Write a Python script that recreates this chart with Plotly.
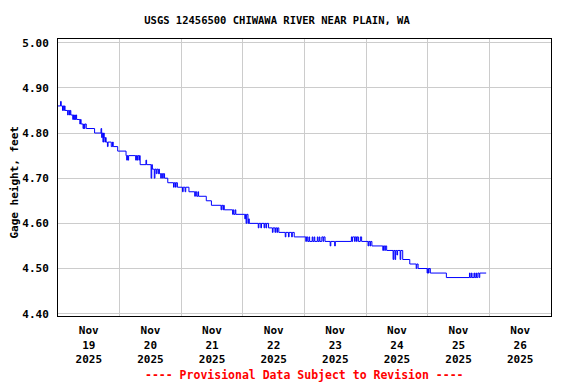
import plotly.graph_objects as go

# Gage height readings (step changes), Nov 2025
times = [
    "2025-11-19 00:00", "2025-11-19 01:00", "2025-11-19 01:15", "2025-11-19 01:45", "2025-11-19 02:00",
    "2025-11-19 02:15", "2025-11-19 02:30", "2025-11-19 02:45", "2025-11-19 03:45", "2025-11-19 04:00",
    "2025-11-19 04:30", "2025-11-19 04:45", "2025-11-19 05:00", "2025-11-19 05:45", "2025-11-19 06:00",
    "2025-11-19 06:15", "2025-11-19 06:30", "2025-11-19 06:45", "2025-11-19 07:00", "2025-11-19 07:15",
    "2025-11-19 08:30", "2025-11-19 08:45", "2025-11-19 09:00", "2025-11-19 09:45", "2025-11-19 10:00",
    "2025-11-19 10:15", "2025-11-19 10:30", "2025-11-19 11:00", "2025-11-19 14:15", "2025-11-19 16:45",
    "2025-11-19 17:00", "2025-11-19 17:15", "2025-11-19 17:30", "2025-11-19 17:45", "2025-11-19 18:00",
    "2025-11-19 18:15", "2025-11-19 18:30", "2025-11-19 18:45", "2025-11-19 19:15", "2025-11-19 19:30",
    "2025-11-19 20:45", "2025-11-19 21:15", "2025-11-19 21:30", "2025-11-19 23:15",
    "2025-11-20 02:30", "2025-11-20 02:45", "2025-11-20 03:00", "2025-11-20 03:15", "2025-11-20 03:30",
    "2025-11-20 06:15", "2025-11-20 06:30", "2025-11-20 06:45", "2025-11-20 07:00", "2025-11-20 07:30",
    "2025-11-20 07:45", "2025-11-20 08:00", "2025-11-20 10:15", "2025-11-20 10:30", "2025-11-20 12:15",
    "2025-11-20 12:30", "2025-11-20 12:45", "2025-11-20 13:30", "2025-11-20 13:45", "2025-11-20 14:15",
    "2025-11-20 14:30", "2025-11-20 15:00", "2025-11-20 15:15", "2025-11-20 15:30", "2025-11-20 16:00",
    "2025-11-20 16:15", "2025-11-20 16:45", "2025-11-20 17:00", "2025-11-20 17:30", "2025-11-20 18:45",
    "2025-11-20 21:00", "2025-11-20 21:15", "2025-11-20 21:45", "2025-11-20 22:00", "2025-11-20 22:30",
    "2025-11-21 00:30", "2025-11-21 00:45", "2025-11-21 01:30", "2025-11-21 01:45", "2025-11-21 03:00",
    "2025-11-21 05:15", "2025-11-21 05:30", "2025-11-21 06:00", "2025-11-21 06:30", "2025-11-21 06:45",
    "2025-11-21 09:45", "2025-11-21 11:45", "2025-11-21 15:30", "2025-11-21 15:45", "2025-11-21 16:15",
    "2025-11-21 16:30", "2025-11-21 16:45", "2025-11-21 20:00", "2025-11-21 20:15", "2025-11-21 20:30",
    "2025-11-21 21:00", "2025-11-21 21:15",
    "2025-11-22 00:45", "2025-11-22 01:00", "2025-11-22 01:15", "2025-11-22 01:30", "2025-11-22 02:00",
    "2025-11-22 02:15", "2025-11-22 02:30", "2025-11-22 06:00", "2025-11-22 06:15", "2025-11-22 07:00",
    "2025-11-22 07:15", "2025-11-22 08:15", "2025-11-22 08:30", "2025-11-22 09:00", "2025-11-22 09:15",
    "2025-11-22 10:00", "2025-11-22 11:30", "2025-11-22 11:45", "2025-11-22 12:30", "2025-11-22 12:45",
    "2025-11-22 13:15", "2025-11-22 13:30", "2025-11-22 14:00", "2025-11-22 16:30", "2025-11-22 16:45",
    "2025-11-22 17:45", "2025-11-22 18:00", "2025-11-22 19:00", "2025-11-22 19:15", "2025-11-22 20:00",
    "2025-11-23 00:30", "2025-11-23 00:45", "2025-11-23 01:15", "2025-11-23 01:45", "2025-11-23 02:00",
    "2025-11-23 03:00", "2025-11-23 03:15", "2025-11-23 03:45", "2025-11-23 04:00", "2025-11-23 05:00",
    "2025-11-23 05:15", "2025-11-23 05:45", "2025-11-23 06:00", "2025-11-23 06:45", "2025-11-23 07:15",
    "2025-11-23 07:30", "2025-11-23 08:00", "2025-11-23 10:00", "2025-11-23 10:15", "2025-11-23 11:45",
    "2025-11-23 12:00", "2025-11-23 18:15", "2025-11-23 18:30", "2025-11-23 18:45", "2025-11-23 19:30",
    "2025-11-23 19:45", "2025-11-23 20:15", "2025-11-23 20:30", "2025-11-23 21:00", "2025-11-23 21:45",
    "2025-11-23 22:15",
    "2025-11-24 00:45", "2025-11-24 01:00", "2025-11-24 01:30", "2025-11-24 01:45", "2025-11-24 02:15",
    "2025-11-24 06:30", "2025-11-24 06:45", "2025-11-24 07:15", "2025-11-24 07:30", "2025-11-24 08:00",
    "2025-11-24 10:30", "2025-11-24 10:45", "2025-11-24 11:15", "2025-11-24 11:30", "2025-11-24 12:00",
    "2025-11-24 12:15", "2025-11-24 13:15", "2025-11-24 13:30", "2025-11-24 14:15", "2025-11-24 17:00",
    "2025-11-24 19:30", "2025-11-24 19:45", "2025-11-24 20:15", "2025-11-24 23:45",
    "2025-11-25 00:00", "2025-11-25 00:15", "2025-11-25 00:30", "2025-11-25 01:00", "2025-11-25 07:15",
    "2025-11-25 16:15", "2025-11-25 16:30", "2025-11-25 17:00", "2025-11-25 17:15", "2025-11-25 18:00",
    "2025-11-25 18:15", "2025-11-25 18:45", "2025-11-25 19:00", "2025-11-25 19:30", "2025-11-25 20:00",
    "2025-11-25 20:15", "2025-11-25 22:45",
]
gage_ft = [
    4.86, 4.87, 4.86, 4.85, 4.86,
    4.85, 4.86, 4.85, 4.84, 4.85,
    4.84, 4.85, 4.84, 4.83, 4.84,
    4.83, 4.84, 4.83, 4.84, 4.83,
    4.82, 4.83, 4.82, 4.81, 4.82,
    4.81, 4.82, 4.81, 4.80, 4.81,
    4.79, 4.80, 4.78, 4.80, 4.79,
    4.78, 4.79, 4.78, 4.77, 4.78,
    4.77, 4.78, 4.77, 4.76,
    4.75, 4.74, 4.75, 4.74, 4.75,
    4.74, 4.75, 4.74, 4.75, 4.74,
    4.75, 4.73, 4.74, 4.73, 4.70,
    4.73, 4.72, 4.70, 4.72, 4.71,
    4.72, 4.71, 4.72, 4.71, 4.70,
    4.71, 4.70, 4.71, 4.70, 4.69,
    4.68, 4.69, 4.68, 4.69, 4.68,
    4.67, 4.68, 4.67, 4.68, 4.67,
    4.66, 4.67, 4.66, 4.67, 4.66,
    4.65, 4.64, 4.63, 4.64, 4.63,
    4.64, 4.63, 4.62, 4.63, 4.62,
    4.63, 4.62,
    4.61, 4.62, 4.60, 4.62, 4.60,
    4.61, 4.60, 4.59, 4.60, 4.59,
    4.60, 4.59, 4.60, 4.59, 4.60,
    4.59, 4.58, 4.59, 4.58, 4.59,
    4.58, 4.59, 4.58, 4.57, 4.58,
    4.57, 4.58, 4.57, 4.58, 4.57,
    4.56, 4.57, 4.56, 4.57, 4.56,
    4.57, 4.56, 4.57, 4.56, 4.57,
    4.56, 4.57, 4.56, 4.57, 4.56,
    4.57, 4.56, 4.55, 4.56, 4.55,
    4.56, 4.57, 4.56, 4.57, 4.56,
    4.57, 4.56, 4.57, 4.56, 4.57,
    4.56,
    4.55, 4.56, 4.55, 4.56, 4.55,
    4.54, 4.55, 4.54, 4.55, 4.54,
    4.52, 4.54, 4.52, 4.54, 4.53,
    4.54, 4.52, 4.54, 4.52, 4.51,
    4.50, 4.51, 4.50, 4.49,
    4.50, 4.49, 4.50, 4.49, 4.48,
    4.49, 4.48, 4.49, 4.48, 4.49,
    4.48, 4.49, 4.48, 4.49, 4.48,
    4.49, 4.49,
]

x_start = "2025-11-19 00:00"
x_end = "2025-11-27 00:00"
y_ticks = [4.40, 4.50, 4.60, 4.70, 4.80, 4.90, 5.00]

FONT = "DejaVu Sans Mono"
OFF = 8  # page body margin offset in the browser

W, H = 576 - OFF, 384 - OFF
L, R, T, B = 58 - OFF, 25, 39 - OFF, 68
PW, PH = W - L - R, H - T - B

fig = go.Figure()
fig.add_trace(go.Scatter(
    x=times, y=gage_ft, mode="lines",
    line=dict(color="#0000ff", width=1, shape="hv"),
    showlegend=False,
))

fig.update_layout(
    width=W, height=H,
    margin=dict(l=L, r=R, t=T, b=B, autoexpand=False),
    paper_bgcolor="white", plot_bgcolor="white",
    font=dict(family=FONT, color="black"),
    title=dict(
        text="<b>USGS 12456500 CHIWAWA RIVER NEAR PLAIN, WA</b>",
        x=(277 - OFF) / W, xref="container", xanchor="center",
        y=1 - (20 - OFF) / H, yref="container", yanchor="middle",
        font=dict(family=FONT, size=10.5, color="black"),
    ),
    xaxis=dict(
        type="date",
        range=[x_start, x_end],
        tick0=x_start, dtick=86400000,
        ticklabelmode="period",
        tickformat="<b>%b</b><br><b>%d</b><br><b>%Y</b>",
        ticks="", showgrid=True, gridcolor="#cccccc", gridwidth=1,
        showline=True, linecolor="black", linewidth=1, mirror=True,
        tickfont=dict(family=FONT, size=11, color="black"),
        ticklabelstandoff=4,
        zeroline=False, automargin=False,
    ),
    yaxis=dict(
        range=[4.3949, 5.0082],
        tickvals=y_ticks,
        ticktext=["<b>%.2f</b>" % v for v in y_ticks],
        ticks="", showgrid=True, gridcolor="#cccccc", gridwidth=1,
        showline=True, linecolor="black", linewidth=1, mirror=True,
        tickfont=dict(family=FONT, size=11, color="black"),
        ticklabelstandoff=6,
        zeroline=False, automargin=False,
    ),
    annotations=[
        dict(
            text="<b>Gage height, feet</b>", textangle=-90,
            xref="paper", yref="paper",
            x=(15 - 58) / PW, y=(316 - 182.6) / PH,
            xanchor="center", yanchor="middle", showarrow=False,
            font=dict(family=FONT, size=11, color="black"),
        ),
        dict(
            text="<b>---- Provisional Data Subject to Revision ----</b>",
            xref="paper", yref="paper",
            x=0.5, y=-(375 - 316) / PH,
            xanchor="center", yanchor="middle", showarrow=False,
            font=dict(family=FONT, size=11.5, color="red"),
        ),
    ],
)

fig.write_html("out.html")
